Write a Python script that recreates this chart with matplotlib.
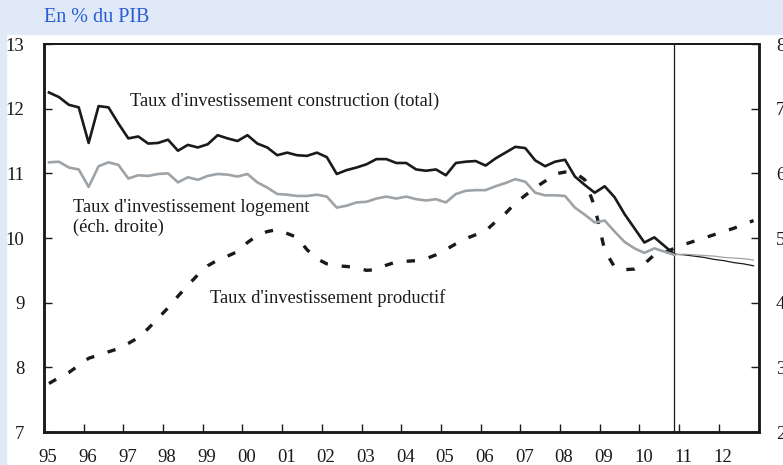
import numpy as np
import matplotlib
matplotlib.use("Agg")
import matplotlib.pyplot as plt
import matplotlib.transforms as mtransforms

plt.rcParams['font.family'] = ['Liberation Serif', 'DejaVu Serif']

# quarterly data 1995Q1 - 2010Q4 (history), forecast 2010Q4 - 2012Q4
construction = [12.25, 12.18, 12.06, 12.02, 11.47, 12.04, 12.02, 11.77,
                11.54, 11.57, 11.46, 11.47, 11.52, 11.35, 11.44, 11.40,
                11.45, 11.59, 11.54, 11.50, 11.59, 11.46, 11.40, 11.28,
                11.32, 11.28, 11.27, 11.32, 11.25, 10.99, 11.05, 11.09,
                11.14, 11.22, 11.22, 11.16, 11.16, 11.06, 11.04, 11.06,
                10.97, 11.16, 11.18, 11.19, 11.12, 11.23, 11.32, 11.41,
                11.39, 11.20, 11.11, 11.18, 11.21, 10.95, 10.82, 10.70,
                10.80, 10.63, 10.37, 10.15, 9.93, 10.01, 9.88, 9.75]
construction_prev = [9.75, 9.74, 9.72, 9.70, 9.67, 9.65, 9.62, 9.60, 9.57]

# logement, right-hand scale
logement = [6.17, 6.18, 6.09, 6.06, 5.79, 6.11, 6.17, 6.13,
            5.92, 5.97, 5.96, 5.99, 6.00, 5.86, 5.94, 5.90,
            5.96, 5.99, 5.98, 5.95, 5.99, 5.86, 5.78, 5.68,
            5.67, 5.65, 5.65, 5.67, 5.64, 5.47, 5.50, 5.55,
            5.56, 5.61, 5.64, 5.61, 5.64, 5.60, 5.58, 5.60,
            5.55, 5.68, 5.73, 5.74, 5.74, 5.80, 5.85, 5.91,
            5.87, 5.70, 5.66, 5.66, 5.65, 5.47, 5.36, 5.24,
            5.27, 5.10, 4.94, 4.84, 4.77, 4.84, 4.79, 4.74]
logement_prev = [4.74, 4.75, 4.74, 4.73, 4.72, 4.70, 4.69, 4.68, 4.66]

# productif 1995Q1 - 2012Q4
productif = [7.75, 7.84, 7.92, 8.03, 8.14, 8.19, 8.24, 8.29,
             8.37, 8.46, 8.60, 8.76, 8.92, 9.10, 9.27, 9.43,
             9.57, 9.66, 9.72, 9.79, 9.93, 10.04, 10.10, 10.13,
             10.07, 10.01, 9.82, 9.68, 9.60, 9.57, 9.56, 9.54,
             9.50, 9.51, 9.58, 9.63, 9.64, 9.65, 9.68, 9.74,
             9.82, 9.91, 9.99, 10.05, 10.11, 10.25, 10.38, 10.54,
             10.66, 10.78, 10.88, 10.99, 11.02, 11.01, 10.90, 10.48,
             9.81, 9.55, 9.51, 9.52, 9.60, 9.74, 9.77, 9.84,
             9.90, 9.95, 10.00, 10.05, 10.10, 10.15, 10.21, 10.27]

year_labels = ['95', '96', '97', '98', '99', '00', '01', '02', '03',
               '04', '05', '06', '07', '08', '09', '10', '11', '12']

t_all = 1995 + (np.arange(len(productif)) + 0.5) / 4
t_hist = t_all[:len(construction)]
t_prev = t_all[len(construction) - 1:]

fig = plt.figure(figsize=(7.83, 4.65), dpi=100)
fig.patch.set_facecolor('white')
# light blue header band and left strip
fig.patches.append(plt.Rectangle((0, 1 - 34 / 465), 1, 34 / 465, transform=fig.transFigure,
                                 color='#dfe9f8', zorder=0))
fig.patches.append(plt.Rectangle((0, 0), 6 / 783, 1, transform=fig.transFigure,
                                 color='#dfe9f8', zorder=0))
fig.text(44 / 783, 1 - 17 / 465, 'En % du PIB', color='#2a5bd4', fontsize=14.5,
         va='center', ha='left')

ax = fig.add_axes([44 / 783, 33 / 465, (758.5 - 44) / 783, (432 - 44) / 465])
ax2 = ax.twinx()

ax.plot(t_hist, construction, color='#1a1a1a', lw=1.9, zorder=3)
ax.plot(t_prev, construction_prev, color='#1a1a1a', lw=0.9, zorder=3)
ax2.plot(t_hist, logement, color='#9ea3a8', lw=1.9, zorder=2)
ax2.plot(t_prev, logement_prev, color='#9ea3a8', lw=0.9, zorder=2)
ax.plot(t_all, productif, color='#1a1a1a', lw=2.4, dashes=(2.5, 4.2), zorder=3)
ax.axvline(t_hist[-1], color='#1a1a1a', lw=0.9, zorder=4)

ax.set_xlim(1995, 2013)
ax.set_ylim(7, 13)
ax2.set_ylim(2, 8)
ax.set_xticks(np.arange(1995, 2013))
ax.set_xticklabels(year_labels)
ax.set_yticks(range(7, 14))
ax2.set_yticks(range(2, 9))

ax.tick_params(axis='both', direction='in', length=6, width=1, labelsize=13.5,
               colors='#1a1a1a')
ax.tick_params(axis='y', pad=14)
ax.tick_params(axis='x', pad=12)
ax2.tick_params(axis='y', direction='in', length=6, width=1, labelsize=13.5,
                colors='#1a1a1a', pad=12.6)
# labels sit a few pixels right of their ticks
shift = mtransforms.ScaledTranslation(0.04, 0, fig.dpi_scale_trans)
for lab in ax.get_xticklabels():
    lab.set_transform(lab.get_transform() + shift)
for a in (ax, ax2):
    for s in a.spines.values():
        s.set_linewidth(1.8)
        s.set_color('#1a1a1a')
    a.spines['top'].set_linewidth(1.4)

ax.text(1997.16, 12.12, "Taux d'investissement construction (total)", fontsize=13.3,
        va='center', ha='left', color='#1a1a1a')
ax.text(1995.73, 10.32, "Taux d'investissement logement\n(éch. droite)", fontsize=13.3,
        va='center', ha='left', color='#1a1a1a', linespacing=1.2)
ax.text(1999.18, 9.07, "Taux d'investissement productif", fontsize=13.3,
        va='center', ha='left', color='#1a1a1a')

fig.savefig('out.png', dpi=100)
